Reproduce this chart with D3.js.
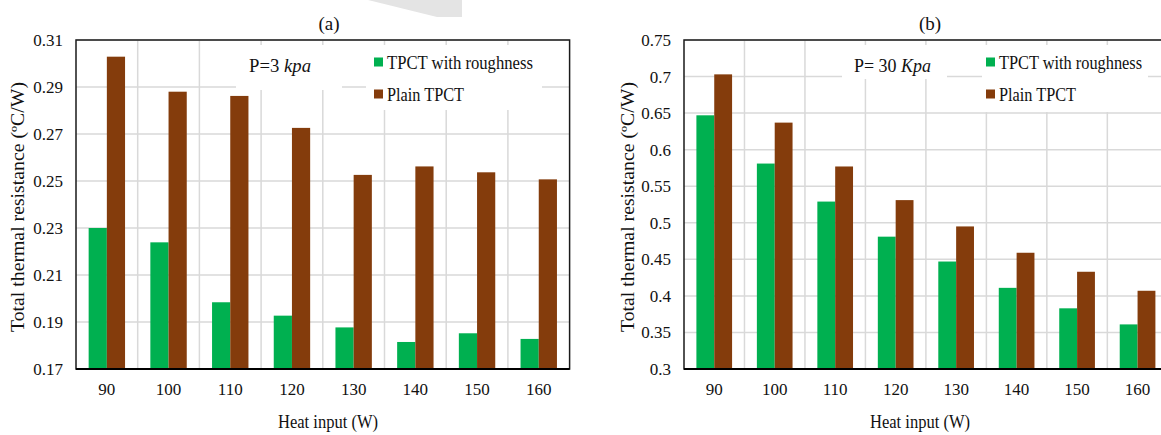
<!DOCTYPE html>
<html>
<head>
<meta charset="utf-8">
<script src="https://cdn.jsdelivr.net/npm/d3@7"></script>
<style>
  html, body { margin: 0; padding: 0; background: #fff; }
  svg { display: block; }
  svg text { font-family: "Liberation Serif", "Times New Roman", Times, serif !important; }
</style>
</head>
<body>
<svg id="chart" width="1161" height="435"></svg>
<script>
// ---------------- data ----------------
const categories = ["90", "100", "110", "120", "130", "140", "150", "160"];
const seriesNames = ["TPCT with roughness", "Plain TPCT"];
const seriesColors = ["#00B050", "#843C0C"];

// panel (a): P = 3 kpa
const roughA = [0.2300, 0.2239, 0.1984, 0.1927, 0.1877, 0.1815, 0.1852, 0.1828];
const plainA = [0.3029, 0.2880, 0.2862, 0.2726, 0.2526, 0.2562, 0.2537, 0.2507];
const ticksA = [0.17, 0.19, 0.21, 0.23, 0.25, 0.27, 0.29, 0.31];
const tickLabelsA = ["0.17", "0.19", "0.21", "0.23", "0.25", "0.27", "0.29", "0.31"];

// panel (b): P = 30 Kpa
const roughB = [0.647, 0.581, 0.529, 0.481, 0.447, 0.411, 0.383, 0.361];
const plainB = [0.703, 0.637, 0.577, 0.531, 0.495, 0.459, 0.433, 0.407];
const ticksB = [0.3, 0.35, 0.4, 0.45, 0.5, 0.55, 0.6, 0.65, 0.7, 0.75];
const tickLabelsB = ["0.3", "0.35", "0.4", "0.45", "0.5", "0.55", "0.6", "0.65", "0.7", "0.75"];

const xTitle = "Heat input (W)";
const yTitle = "Total thermal  resistance (\u00BAC/W)";

// ---------------- layout ----------------
const FONT = "'Liberation Serif', 'Times New Roman', Times, serif";
const svg = d3.select("#chart").attr("font-family", FONT);
svg.append("rect").attr("width", 1161).attr("height", 435).attr("fill", "#fff");

// faint watermark fragment at top
svg.append("polygon")
  .attr("points", "368,0 462,0 462,17 437,17")
  .attr("fill", "#e4e4e4");

const panels = [
  {
    left: 76, right: 569.6, top: 40, bottom: 369,
    rough: roughA, plain: plainA, ticks: ticksA, tickLabels: tickLabelsA,
    title: "(a)", titleX: 329,
    yTitleX: 18, xTitleX: 328,
    pLabel: ["P=3 ", "kpa"], pX: 249, pTL: 62,
    pBox: [236, 45, 106, 45],
    legBox: [366, 45, 176, 65],
    legX: 374, legTL: [146, 77]
  },
  {
    left: 684, right: 1167.8, top: 40, bottom: 369,
    rough: roughB, plain: plainB, ticks: ticksB, tickLabels: tickLabelsB,
    title: "(b)", titleX: 930,
    yTitleX: 628, xTitleX: 920,
    pLabel: ["P= 30 ", "Kpa"], pX: 854, pTL: 77,
    pBox: [842, 45, 105, 34],
    legBox: [982, 45, 166, 67],
    legX: 986, legTL: [143, 77]
  }
];

panels.forEach(p => {
  const g = svg.append("g");
  const y = d3.scaleLinear()
    .domain([p.ticks[0], p.ticks[p.ticks.length - 1]])
    .range([p.bottom, p.top]);
  const x0 = d3.scaleBand().domain(categories).range([p.left, p.right]).padding(0);
  const step = x0.step();
  const pairFrac = 0.59;
  const x1 = d3.scaleBand().domain(seriesNames)
    .range([step * (1 - pairFrac) / 2, step * (1 + pairFrac) / 2]).padding(0);

  // gridlines horizontal
  g.append("g").selectAll("line")
    .data(p.ticks.slice(1))
    .join("line")
    .attr("x1", p.left).attr("x2", p.right)
    .attr("y1", d => y(d)).attr("y2", d => y(d))
    .attr("stroke", "#d9d9d9").attr("stroke-width", 1.5);

  // gridlines vertical (category boundaries)
  g.append("g").selectAll("line")
    .data(categories.slice(1))
    .join("line")
    .attr("x1", d => x0(d)).attr("x2", d => x0(d))
    .attr("y1", p.top).attr("y2", p.bottom)
    .attr("stroke", "#d9d9d9").attr("stroke-width", 1.5);

  // white boxes behind annotation + legend
  g.append("rect").attr("x", p.pBox[0]).attr("y", p.pBox[1])
    .attr("width", p.pBox[2]).attr("height", p.pBox[3]).attr("fill", "#fff");
  g.append("rect").attr("x", p.legBox[0]).attr("y", p.legBox[1])
    .attr("width", p.legBox[2]).attr("height", p.legBox[3]).attr("fill", "#fff");

  // bars
  const rows = categories.map((c, i) => ({ c, vals: [p.rough[i], p.plain[i]] }));
  const grp = g.append("g").selectAll("g")
    .data(rows).join("g")
    .attr("transform", d => `translate(${x0(d.c)},0)`);
  grp.selectAll("rect")
    .data(d => d.vals.map((v, k) => ({ v, k })))
    .join("rect")
    .attr("x", d => x1(seriesNames[d.k]))
    .attr("width", x1.bandwidth())
    .attr("y", d => y(d.v))
    .attr("height", d => y(p.ticks[0]) - y(d.v))
    .attr("fill", d => seriesColors[d.k]);

  // plot border
  g.append("rect")
    .attr("x", p.left).attr("y", p.top)
    .attr("width", p.right - p.left).attr("height", p.bottom - p.top)
    .attr("fill", "none").attr("stroke", "#1a1a1a").attr("stroke-width", 1.5);
  g.append("line")
    .attr("x1", p.left).attr("x2", p.right)
    .attr("y1", p.bottom).attr("y2", p.bottom)
    .attr("stroke", "#000").attr("stroke-width", 2.2);

  // y axis
  const yAxis = d3.axisLeft(y)
    .tickValues(p.ticks)
    .tickFormat((d, i) => p.tickLabels[i])
    .tickSize(0).tickPadding(13);
  const ya = g.append("g").attr("transform", `translate(${p.left},0)`).call(yAxis)
    .attr("font-family", FONT).attr("font-size", 17);
  ya.select(".domain").remove();
  ya.selectAll("text").attr("fill", "#111");

  // x axis
  const xAxis = d3.axisBottom(x0).tickSize(0).tickPadding(14);
  const xa = g.append("g").attr("transform", `translate(0,${p.bottom})`).call(xAxis)
    .attr("font-family", FONT).attr("font-size", 17);
  xa.select(".domain").remove();
  xa.selectAll("text").attr("fill", "#111");

  // titles
  g.append("text").attr("x", p.titleX).attr("y", 30)
    .attr("text-anchor", "middle").attr("font-size", 19).attr("fill", "#111")
    .text(p.title);
  g.append("text").attr("x", p.xTitleX).attr("y", 428)
    .attr("text-anchor", "middle").attr("font-size", 18).attr("fill", "#111")
    .attr("textLength", 100).attr("lengthAdjust", "spacingAndGlyphs")
    .text(xTitle);
  g.append("text")
    .attr("transform", `translate(${p.yTitleX + 6},207) rotate(-90)`)
    .attr("text-anchor", "middle").attr("font-size", 18).attr("fill", "#111")
    .attr("textLength", 250).attr("lengthAdjust", "spacingAndGlyphs")
    .text(yTitle);

  // pressure label
  const pt = g.append("text").attr("x", p.pX).attr("y", 72)
    .attr("font-size", 19).attr("fill", "#111")
    .attr("textLength", p.pTL).attr("lengthAdjust", "spacingAndGlyphs");
  pt.append("tspan").text(p.pLabel[0]);
  pt.append("tspan").attr("font-style", "italic").text(p.pLabel[1]);

  // legend
  const leg = g.append("g").selectAll("g")
    .data(seriesNames).join("g")
    .attr("transform", (d, i) => `translate(${p.legX},${57.5 + i * 32})`);
  leg.append("rect").attr("width", 9).attr("height", 9)
    .attr("fill", (d, i) => seriesColors[i]);
  leg.append("text").attr("x", 13).attr("y", 11)
    .attr("font-size", 18).attr("fill", "#111")
    .attr("textLength", (d, i) => p.legTL[i]).attr("lengthAdjust", "spacingAndGlyphs")
    .text(d => d);
});
</script>
</body>
</html>
